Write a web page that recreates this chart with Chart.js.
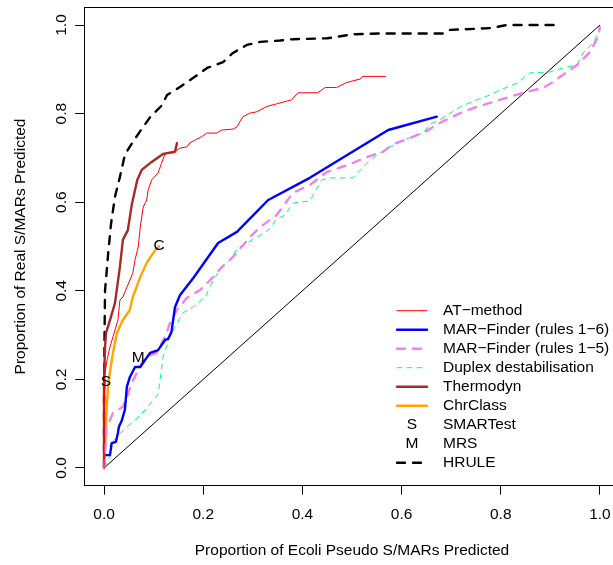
<!DOCTYPE html>
<html>
<head>
<meta charset="utf-8">
<script src="https://cdn.jsdelivr.net/npm/chart.js@4.4.0/dist/chart.umd.min.js"></script>
<style>
html, body { margin: 0; padding: 0; overflow: hidden; background: #fff; }
canvas { display: block; }
</style>
</head>
<body>
<canvas id="roc" width="622" height="565"></canvas>
<script>
// axis ticks
var tickVals = [0, 0.2, 0.4, 0.6, 0.8, 1.0];
var tickLabels = ['0.0', '0.2', '0.4', '0.6', '0.8', '1.0'];

// ROC curves: x = proportion of pseudo S/MARs, y = proportion of real S/MARs
var atX = [0, 0, 0.002, 0.006, 0.012, 0.018, 0.028, 0.032, 0.038, 0.058, 0.0625, 0.069, 0.073, 0.079, 0.086, 0.089, 0.096, 0.109, 0.116, 0.123, 0.143, 0.153, 0.167, 0.173, 0.183, 0.197, 0.207, 0.227, 0.237, 0.260, 0.268, 0.280, 0.294, 0.308, 0.328, 0.348, 0.378, 0.391, 0.431, 0.446, 0.469, 0.489, 0.516, 0.522, 0.567];
var atY = [0, 0.124, 0.214, 0.244, 0.273, 0.296, 0.334, 0.379, 0.386, 0.440, 0.470, 0.499, 0.544, 0.589, 0.605, 0.628, 0.650, 0.666, 0.688, 0.709, 0.714, 0.722, 0.725, 0.734, 0.740, 0.748, 0.756, 0.756, 0.763, 0.765, 0.770, 0.793, 0.801, 0.804, 0.816, 0.822, 0.831, 0.847, 0.847, 0.859, 0.859, 0.870, 0.878, 0.884, 0.884];

var mar6X = [0.005, 0.012, 0.0155, 0.024, 0.028, 0.030, 0.036, 0.042, 0.046, 0.052, 0.0625, 0.073, 0.083, 0.093, 0.109, 0.123, 0.129, 0.136, 0.143, 0.153, 0.180, 0.230, 0.268, 0.331, 0.415, 0.573, 0.671];
var mar6Y = [0.029, 0.029, 0.056, 0.059, 0.079, 0.093, 0.108, 0.131, 0.183, 0.205, 0.228, 0.228, 0.244, 0.260, 0.266, 0.289, 0.291, 0.307, 0.363, 0.390, 0.429, 0.508, 0.533, 0.605, 0.655, 0.763, 0.793];

var mar5X = [0, 0.005, 0.018, 0.038, 0.046, 0.056, 0.066, 0.083, 0.106, 0.123, 0.133, 0.147, 0.167, 0.194, 0.214, 0.238, 0.258, 0.294, 0.315, 0.348, 0.381, 0.415, 0.449, 0.496, 0.530, 0.5625, 0.583, 0.617, 0.651, 0.677, 0.718, 0.751, 0.798, 0.845, 0.885, 0.905, 0.933, 0.954, 0.980, 0.996, 1.0];
var mar5Y = [0, 0.090, 0.124, 0.138, 0.160, 0.192, 0.214, 0.251, 0.260, 0.296, 0.327, 0.357, 0.384, 0.402, 0.424, 0.454, 0.474, 0.521, 0.544, 0.571, 0.621, 0.639, 0.668, 0.686, 0.702, 0.714, 0.731, 0.745, 0.761, 0.779, 0.801, 0.815, 0.831, 0.847, 0.858, 0.871, 0.894, 0.910, 0.939, 0.973, 0.995];

var duplexX = [0, 0.012, 0.0135, 0.026, 0.046, 0.0625, 0.086, 0.099, 0.109, 0.113, 0.119, 0.133, 0.147, 0.159, 0.179, 0.204, 0.220, 0.234, 0.254, 0.270, 0.288, 0.308, 0.331, 0.348, 0.365, 0.381, 0.415, 0.439, 0.456, 0.502, 0.530, 0.542, 0.577, 0.590, 0.610, 0.643, 0.657, 0.677, 0.698, 0.718, 0.744, 0.778, 0.798, 0.833, 0.859, 0.899, 0.925, 0.954, 0.966, 0.986, 0.996, 1.0];
var duplexY = [0, 0.025, 0.056, 0.070, 0.093, 0.108, 0.135, 0.153, 0.167, 0.199, 0.251, 0.296, 0.327, 0.350, 0.363, 0.386, 0.424, 0.447, 0.470, 0.497, 0.508, 0.521, 0.537, 0.562, 0.571, 0.598, 0.603, 0.650, 0.655, 0.655, 0.688, 0.700, 0.725, 0.731, 0.743, 0.756, 0.776, 0.786, 0.801, 0.815, 0.828, 0.842, 0.853, 0.869, 0.892, 0.894, 0.903, 0.910, 0.937, 0.959, 0.982, 1.0];

var thermoX = [0, 0, 0.002, 0.004, 0.012, 0.022, 0.032, 0.038, 0.048, 0.056, 0.067, 0.076, 0.096, 0.119, 0.143, 0.147];
var thermoY = [0, 0.200, 0.273, 0.305, 0.334, 0.372, 0.454, 0.515, 0.537, 0.595, 0.650, 0.673, 0.691, 0.709, 0.714, 0.733];

var chrX = [0, 0.002, 0.005, 0.008, 0.0135, 0.018, 0.026, 0.038, 0.052, 0.058, 0.073, 0.086, 0.103, 0.111];
var chrY = [0, 0.047, 0.124, 0.183, 0.228, 0.260, 0.305, 0.334, 0.357, 0.386, 0.431, 0.463, 0.492, 0.501];

var hruleX = [0, 0, 0.001, 0.002, 0.008, 0.014, 0.022, 0.032, 0.042, 0.058, 0.077, 0.093, 0.117, 0.127, 0.153, 0.183, 0.208, 0.240, 0.260, 0.288, 0.315, 0.355, 0.381, 0.450, 0.502, 0.5625, 0.683, 0.698, 0.778, 0.8125, 0.913];
var hruleY = [0, 0.150, 0.300, 0.400, 0.480, 0.550, 0.612, 0.657, 0.707, 0.736, 0.767, 0.792, 0.819, 0.842, 0.860, 0.883, 0.903, 0.916, 0.937, 0.955, 0.962, 0.965, 0.968, 0.970, 0.979, 0.981, 0.981, 0.989, 0.993, 1.0, 1.0];

// single-point methods shown as letters
var pointLabels = ['S', 'M', 'C'];
var pointX = [0.004, 0.069, 0.111];
var pointY = [0.195, 0.248, 0.501];

function pts(xs, ys) {
  return xs.map(function (x, i) { return { x: x, y: ys[i] }; });
}

var FONT = '15.5px "Liberation Sans", Arial, sans-serif';

var series = [
  { label: 'AT\u2212method', x: atX, y: atY, color: '#ff0000', width: 1, dash: [] },
  { label: 'MAR\u2212Finder (rules 1\u22126)', x: mar6X, y: mar6Y, color: '#0000ff', width: 2.4, dash: [] },
  { label: 'MAR\u2212Finder (rules 1\u22125)', x: mar5X, y: mar5Y, color: '#ee82ee', width: 2.4, dash: [8, 8] },
  { label: 'Duplex destabilisation', x: duplexX, y: duplexY, color: '#00ff7f', width: 1, dash: [5, 5] },
  { label: 'Thermodyn', x: thermoX, y: thermoY, color: '#a52a2a', width: 2.4, dash: [] },
  { label: 'ChrClass', x: chrX, y: chrY, color: '#ffa500', width: 2.4, dash: [] },
  { label: 'SMARTest', symbol: 'S' },
  { label: 'MRS', symbol: 'M' },
  { label: 'HRULE', x: hruleX, y: hruleY, color: '#000000', width: 2.4, dash: [8, 8] }
];

var datasets = [];
series.forEach(function (s) {
  if (!s.x) return;
  datasets.push({
    label: s.label,
    data: pts(s.x, s.y),
    borderColor: s.color,
    borderWidth: s.width,
    borderDash: s.dash,
    borderCapStyle: 'round',
    borderJoinStyle: 'round',
    pointRadius: 0,
    tension: 0,
    fill: false
  });
});
// reference diagonal
datasets.push({
  label: 'chance',
  data: [{ x: 0, y: 0 }, { x: 1, y: 1 }],
  borderColor: '#000000',
  borderWidth: 1,
  pointRadius: 0,
  fill: false
});

var rDecor = {
  id: 'rDecor',
  afterDraw: function (chart) {
    var ctx = chart.ctx, a = chart.chartArea;
    var xs = chart.scales.x, ys = chart.scales.y;
    ctx.save();
    ctx.strokeStyle = '#000';
    ctx.lineWidth = 1;
    ctx.beginPath();
    ctx.moveTo(a.left, Math.round(a.top) + 0.5);
    ctx.lineTo(a.right, Math.round(a.top) + 0.5);
    ctx.stroke();

    ctx.fillStyle = '#000';
    ctx.font = FONT;
    ctx.textAlign = 'center';
    ctx.textBaseline = 'middle';

    tickVals.forEach(function (v, i) {
      ctx.fillText(tickLabels[i], xs.getPixelForValue(v), 515);
      ctx.save();
      ctx.translate(62, ys.getPixelForValue(v));
      ctx.rotate(-Math.PI / 2);
      ctx.fillText(tickLabels[i], 0, 0);
      ctx.restore();
    });

    ctx.fillText('Proportion of Ecoli Pseudo S/MARs Predicted', (a.left + a.right) / 2, 551);
    ctx.save();
    ctx.translate(21, (a.top + a.bottom) / 2);
    ctx.rotate(-Math.PI / 2);
    ctx.fillText('Proportion of Real S/MARs Predicted', 0, 0);
    ctx.restore();

    pointLabels.forEach(function (t, i) {
      ctx.fillText(t, xs.getPixelForValue(pointX[i]), ys.getPixelForValue(pointY[i]));
    });

    // legend
    series.forEach(function (s, i) {
      var yy = 310.7 + 19 * i;
      ctx.textAlign = 'left';
      ctx.fillText(s.label, 443, yy);
      if (s.symbol) {
        ctx.textAlign = 'center';
        ctx.fillText(s.symbol, 412, yy);
        return;
      }
      ctx.save();
      ctx.strokeStyle = s.color;
      ctx.lineWidth = s.width;
      ctx.lineCap = 'round';
      ctx.setLineDash(s.dash);
      ctx.beginPath();
      ctx.moveTo(397, yy);
      ctx.lineTo(427, yy);
      ctx.stroke();
      ctx.restore();
    });
    ctx.restore();
  }
};

function fixedTicks(scale) {
  scale.ticks = tickVals.map(function (v) { return { value: v }; });
}

new Chart(document.getElementById('roc').getContext('2d'), {
  type: 'line',
  data: { datasets: datasets },
  options: {
    responsive: false,
    animation: false,
    devicePixelRatio: 1,
    layout: { padding: { top: 7.3, right: 2.2, left: 0, bottom: 0 } },
    plugins: { legend: { display: false }, tooltip: { enabled: false } },
    scales: {
      x: {
        type: 'linear',
        min: -0.04,
        max: 1.04,
        afterBuildTicks: fixedTicks,
        afterFit: function (s) { s.height = 79.3; },
        ticks: { display: false },
        grid: { drawOnChartArea: false, drawTicks: true, tickLength: 9, color: '#000' },
        border: { display: true, color: '#000', width: 1 }
      },
      y: {
        type: 'linear',
        min: -0.04,
        max: 1.04,
        afterBuildTicks: fixedTicks,
        afterFit: function (s) { s.width = 84.2; },
        ticks: { display: false },
        grid: { drawOnChartArea: false, drawTicks: true, tickLength: 9, color: '#000' },
        border: { display: true, color: '#000', width: 1 }
      }
    }
  },
  plugins: [rDecor]
});
</script>
</body>
</html>
